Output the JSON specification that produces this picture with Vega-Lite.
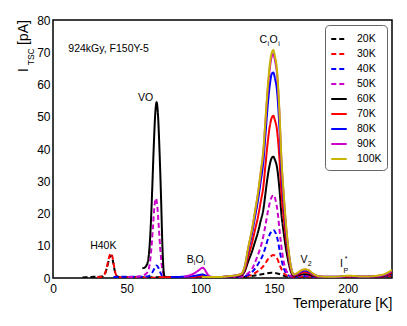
{
  "$schema": "https://vega.github.io/schema/vega-lite/v6.json",
  "width": 339,
  "height": 258,
  "autosize": {"type": "none"},
  "padding": {"left": 53, "top": 20, "right": 15, "bottom": 48},
  "config": {
    "font": "Liberation Sans",
    "view": {"stroke": "#000", "strokeWidth": 1.5},
    "axis": {
      "labelColor": "#000", "titleColor": "#000", "labelFont": "Liberation Sans", "titleFont": "Liberation Sans",
      "labelOverlap": false, "labelFlush": false, "labelFontSize": 12,
      "titleFontWeight": "normal", "titleFontSize": 14,
      "domain": false, "ticks": false, "grid": false
    },
    "legend": {"labelFont": "Liberation Sans"}
  },
  "datasets": {
    "gridX": [{"T": 50}, {"T": 100}, {"T": 150}, {"T": 200}],
    "gridY": [{"I": 10}, {"I": 20}, {"I": 30}, {"I": 40}, {"I": 50}, {"I": 60}, {"I": 70}],
    "tsc": [
      {"s":"20K","T":20,"I":0.15},{"s":"20K","T":24,"I":0.3},{"s":"20K","T":28,"I":0.4},{"s":"20K","T":31,"I":0.4},{"s":"20K","T":33.5,"I":0.45},{"s":"20K","T":34.5,"I":0.8},{"s":"20K","T":35.5,"I":1.6},{"s":"20K","T":36.5,"I":3.0},{"s":"20K","T":37.5,"I":4.9},{"s":"20K","T":38.5,"I":6.5},{"s":"20K","T":39.5,"I":7.0},{"s":"20K","T":40.5,"I":5.7},{"s":"20K","T":41.5,"I":3.1},{"s":"20K","T":42.5,"I":1.2},{"s":"20K","T":43.5,"I":0.5},{"s":"20K","T":45,"I":0.3},{"s":"20K","T":50,"I":0.25},{"s":"20K","T":60,"I":0.2},{"s":"20K","T":70,"I":0.2},{"s":"20K","T":80,"I":0.2},{"s":"20K","T":90,"I":0.2},{"s":"20K","T":100,"I":0.25},{"s":"20K","T":110,"I":0.25},{"s":"20K","T":120,"I":0.25},{"s":"20K","T":128,"I":0.3},{"s":"20K","T":132,"I":0.45},{"s":"20K","T":136,"I":0.7},{"s":"20K","T":140,"I":1.0},{"s":"20K","T":144,"I":1.35},{"s":"20K","T":148,"I":1.6},{"s":"20K","T":150,"I":1.6},{"s":"20K","T":153,"I":1.3},{"s":"20K","T":156,"I":0.8},{"s":"20K","T":159,"I":0.4},{"s":"20K","T":162,"I":0.25},{"s":"20K","T":168,"I":0.25},{"s":"20K","T":171,"I":0.3},{"s":"20K","T":176,"I":0.25},{"s":"20K","T":185,"I":0.2},{"s":"20K","T":200,"I":0.25},{"s":"20K","T":215,"I":0.2},{"s":"20K","T":230,"I":0.6},

      {"s":"30K","T":30,"I":0.3},{"s":"30K","T":32,"I":0.35},{"s":"30K","T":33.5,"I":0.5},{"s":"30K","T":34.5,"I":0.85},{"s":"30K","T":35.5,"I":1.7},{"s":"30K","T":36.5,"I":3.2},{"s":"30K","T":37.5,"I":5.3},{"s":"30K","T":38.5,"I":7.1},{"s":"30K","T":39.5,"I":7.6},{"s":"30K","T":40.5,"I":6.2},{"s":"30K","T":41.5,"I":3.4},{"s":"30K","T":42.5,"I":1.3},{"s":"30K","T":43.5,"I":0.5},{"s":"30K","T":45,"I":0.25},{"s":"30K","T":50,"I":0.15},{"s":"30K","T":60,"I":0.1},{"s":"30K","T":70,"I":0.1},{"s":"30K","T":80,"I":0.15},{"s":"30K","T":90,"I":0.2},{"s":"30K","T":100,"I":0.25},{"s":"30K","T":110,"I":0.25},{"s":"30K","T":120,"I":0.3},{"s":"30K","T":125,"I":0.35},{"s":"30K","T":128,"I":0.4},{"s":"30K","T":132,"I":0.6},{"s":"30K","T":135,"I":1.0},{"s":"30K","T":138,"I":1.8},{"s":"30K","T":140,"I":2.5},{"s":"30K","T":142,"I":3.3},{"s":"30K","T":144,"I":4.5},{"s":"30K","T":146,"I":5.9},{"s":"30K","T":148,"I":6.8},{"s":"30K","T":149.5,"I":7.1},{"s":"30K","T":151,"I":6.7},{"s":"30K","T":152.5,"I":5.6},{"s":"30K","T":154,"I":3.8},{"s":"30K","T":155.5,"I":2.3},{"s":"30K","T":157,"I":1.3},{"s":"30K","T":158.5,"I":0.8},{"s":"30K","T":160,"I":0.5},{"s":"30K","T":162,"I":0.4},{"s":"30K","T":165,"I":0.4},{"s":"30K","T":171,"I":0.45},{"s":"30K","T":176,"I":0.4},{"s":"30K","T":180,"I":0.3},{"s":"30K","T":190,"I":0.25},{"s":"30K","T":200,"I":0.3},{"s":"30K","T":210,"I":0.25},{"s":"30K","T":220,"I":0.3},{"s":"30K","T":230,"I":0.8},

      {"s":"40K","T":41,"I":0.3},{"s":"40K","T":45,"I":0.35},{"s":"40K","T":50,"I":0.4},{"s":"40K","T":55,"I":0.4},{"s":"40K","T":60,"I":0.4},{"s":"40K","T":64,"I":0.5},{"s":"40K","T":66,"I":0.9},{"s":"40K","T":68,"I":2.2},{"s":"40K","T":69,"I":3.2},{"s":"40K","T":70.3,"I":3.9},{"s":"40K","T":71.5,"I":3.2},{"s":"40K","T":72.5,"I":2.0},{"s":"40K","T":74,"I":0.7},{"s":"40K","T":76,"I":0.3},{"s":"40K","T":80,"I":0.25},{"s":"40K","T":90,"I":0.25},{"s":"40K","T":100,"I":0.3},{"s":"40K","T":110,"I":0.3},{"s":"40K","T":120,"I":0.35},{"s":"40K","T":125,"I":0.4},{"s":"40K","T":128,"I":0.45},{"s":"40K","T":132,"I":0.9},{"s":"40K","T":135,"I":1.8},{"s":"40K","T":138,"I":3.5},{"s":"40K","T":140,"I":5.0},{"s":"40K","T":142,"I":6.7},{"s":"40K","T":144,"I":9.3},{"s":"40K","T":146,"I":12.3},{"s":"40K","T":148,"I":14.3},{"s":"40K","T":149.5,"I":14.9},{"s":"40K","T":151,"I":14.0},{"s":"40K","T":152.5,"I":11.7},{"s":"40K","T":154,"I":7.9},{"s":"40K","T":155.5,"I":4.7},{"s":"40K","T":157,"I":2.5},{"s":"40K","T":158.5,"I":1.3},{"s":"40K","T":160,"I":0.7},{"s":"40K","T":162,"I":0.45},{"s":"40K","T":164,"I":0.4},{"s":"40K","T":166,"I":0.5},{"s":"40K","T":168.5,"I":0.6},{"s":"40K","T":171,"I":0.6},{"s":"40K","T":173.5,"I":0.55},{"s":"40K","T":176,"I":0.45},{"s":"40K","T":180,"I":0.3},{"s":"40K","T":185,"I":0.3},{"s":"40K","T":190,"I":0.3},{"s":"40K","T":200,"I":0.35},{"s":"40K","T":210,"I":0.3},{"s":"40K","T":220,"I":0.35},{"s":"40K","T":230,"I":1.0},

      {"s":"50K","T":51,"I":0.3},{"s":"50K","T":55,"I":0.35},{"s":"50K","T":58,"I":0.45},{"s":"50K","T":60,"I":0.6},{"s":"50K","T":62,"I":1.0},{"s":"50K","T":63.8,"I":1.6},{"s":"50K","T":64.8,"I":2.5},{"s":"50K","T":65.8,"I":4.9},{"s":"50K","T":66.8,"I":9.4},{"s":"50K","T":67.8,"I":15.7},{"s":"50K","T":68.8,"I":22.1},{"s":"50K","T":69.8,"I":24.7},{"s":"50K","T":70.8,"I":22.1},{"s":"50K","T":71.8,"I":15.7},{"s":"50K","T":72.8,"I":8.9},{"s":"50K","T":73.8,"I":4.0},{"s":"50K","T":74.8,"I":1.5},{"s":"50K","T":76,"I":0.5},{"s":"50K","T":78,"I":0.3},{"s":"50K","T":85,"I":0.3},{"s":"50K","T":95,"I":0.35},{"s":"50K","T":100,"I":0.4},{"s":"50K","T":105,"I":0.35},{"s":"50K","T":110,"I":0.3},{"s":"50K","T":120,"I":0.35},{"s":"50K","T":125,"I":0.4},{"s":"50K","T":128,"I":0.55},{"s":"50K","T":132,"I":1.3},{"s":"50K","T":135,"I":2.8},{"s":"50K","T":138,"I":5.9},{"s":"50K","T":140,"I":8.4},{"s":"50K","T":142,"I":11.5},{"s":"50K","T":144,"I":16.0},{"s":"50K","T":146,"I":21.1},{"s":"50K","T":148,"I":24.7},{"s":"50K","T":149.5,"I":25.7},{"s":"50K","T":151,"I":24.2},{"s":"50K","T":152.5,"I":20.1},{"s":"50K","T":154,"I":13.5},{"s":"50K","T":155.5,"I":7.9},{"s":"50K","T":157,"I":4.1},{"s":"50K","T":158.5,"I":2.1},{"s":"50K","T":160,"I":1.0},{"s":"50K","T":162,"I":0.6},{"s":"50K","T":164,"I":0.5},{"s":"50K","T":166,"I":0.6},{"s":"50K","T":168.5,"I":0.75},{"s":"50K","T":171,"I":0.8},{"s":"50K","T":173.5,"I":0.75},{"s":"50K","T":176,"I":0.55},{"s":"50K","T":180,"I":0.35},{"s":"50K","T":185,"I":0.3},{"s":"50K","T":190,"I":0.3},{"s":"50K","T":200,"I":0.4},{"s":"50K","T":210,"I":0.3},{"s":"50K","T":220,"I":0.4},{"s":"50K","T":230,"I":1.2},

      {"s":"60K","T":60.6,"I":3.0},{"s":"60K","T":62,"I":3.2},{"s":"60K","T":63.3,"I":3.8},{"s":"60K","T":64.3,"I":5.0},{"s":"60K","T":65.3,"I":8.5},{"s":"60K","T":66.3,"I":16},{"s":"60K","T":67.3,"I":27.3},{"s":"60K","T":68.3,"I":40},{"s":"60K","T":69.3,"I":50.4},{"s":"60K","T":70.3,"I":54.5},{"s":"60K","T":71.3,"I":50},{"s":"60K","T":72.3,"I":39},{"s":"60K","T":73.3,"I":25},{"s":"60K","T":74.3,"I":9},{"s":"60K","T":75,"I":2.5},{"s":"60K","T":75.5,"I":0.7},{"s":"60K","T":76.5,"I":0.3},{"s":"60K","T":80,"I":0.3},{"s":"60K","T":90,"I":0.3},{"s":"60K","T":96,"I":0.35},{"s":"60K","T":101,"I":0.5},{"s":"60K","T":106,"I":0.35},{"s":"60K","T":110,"I":0.3},{"s":"60K","T":120,"I":0.45},{"s":"60K","T":125,"I":0.6},{"s":"60K","T":128,"I":0.9},{"s":"60K","T":130,"I":2.0},{"s":"60K","T":132.5,"I":5.2},{"s":"60K","T":135,"I":8.2},{"s":"60K","T":137,"I":11.1},{"s":"60K","T":139,"I":14.1},{"s":"60K","T":141,"I":17.9},{"s":"60K","T":142.7,"I":21.2},{"s":"60K","T":144,"I":25.7},{"s":"60K","T":145.5,"I":31.0},{"s":"60K","T":147,"I":35.0},{"s":"60K","T":148.5,"I":37.3},{"s":"60K","T":149.5,"I":37.6},{"s":"60K","T":150.5,"I":36.7},{"s":"60K","T":152,"I":34.3},{"s":"60K","T":153.5,"I":28.3},{"s":"60K","T":155,"I":19.7},{"s":"60K","T":156.5,"I":14.1},{"s":"60K","T":158,"I":9.3},{"s":"60K","T":159.5,"I":5.5},{"s":"60K","T":161,"I":2.5},{"s":"60K","T":162.5,"I":1.0},{"s":"60K","T":163.5,"I":0.65},{"s":"60K","T":166,"I":0.8},{"s":"60K","T":168.5,"I":1.1},{"s":"60K","T":171,"I":1.2},{"s":"60K","T":173.5,"I":1.1},{"s":"60K","T":176,"I":0.7},{"s":"60K","T":178.5,"I":0.45},{"s":"60K","T":181,"I":0.35},{"s":"60K","T":185,"I":0.3},{"s":"60K","T":190,"I":0.3},{"s":"60K","T":195,"I":0.3},{"s":"60K","T":200,"I":0.45},{"s":"60K","T":205,"I":0.4},{"s":"60K","T":210,"I":0.3},{"s":"60K","T":215,"I":0.35},{"s":"60K","T":220,"I":0.45},{"s":"60K","T":225,"I":0.7},{"s":"60K","T":230,"I":1.5},

      {"s":"70K","T":72,"I":0.2},{"s":"70K","T":80,"I":0.2},{"s":"70K","T":90,"I":0.25},{"s":"70K","T":96,"I":0.35},{"s":"70K","T":101.5,"I":0.6},{"s":"70K","T":104,"I":0.45},{"s":"70K","T":108,"I":0.3},{"s":"70K","T":115,"I":0.3},{"s":"70K","T":120,"I":0.5},{"s":"70K","T":125,"I":0.7},{"s":"70K","T":128,"I":1.1},{"s":"70K","T":130,"I":2.55},{"s":"70K","T":132.5,"I":6.8},{"s":"70K","T":135,"I":10.8},{"s":"70K","T":137,"I":14.8},{"s":"70K","T":139,"I":18.8},{"s":"70K","T":141,"I":23.8},{"s":"70K","T":142.7,"I":28.3},{"s":"70K","T":144,"I":34.3},{"s":"70K","T":145.5,"I":41.3},{"s":"70K","T":147,"I":46.8},{"s":"70K","T":148.5,"I":49.8},{"s":"70K","T":149.5,"I":50.3},{"s":"70K","T":150.5,"I":49.0},{"s":"70K","T":152,"I":45.8},{"s":"70K","T":153.5,"I":37.8},{"s":"70K","T":155,"I":26.3},{"s":"70K","T":156.5,"I":18.8},{"s":"70K","T":158,"I":12.3},{"s":"70K","T":159.5,"I":7.3},{"s":"70K","T":161,"I":3.3},{"s":"70K","T":162.5,"I":1.3},{"s":"70K","T":163.5,"I":0.8},{"s":"70K","T":166,"I":1.1},{"s":"70K","T":168.5,"I":1.6},{"s":"70K","T":171,"I":1.8},{"s":"70K","T":173.5,"I":1.6},{"s":"70K","T":176,"I":1.0},{"s":"70K","T":178.5,"I":0.55},{"s":"70K","T":181,"I":0.4},{"s":"70K","T":185,"I":0.3},{"s":"70K","T":190,"I":0.3},{"s":"70K","T":195,"I":0.35},{"s":"70K","T":200,"I":0.5},{"s":"70K","T":205,"I":0.45},{"s":"70K","T":210,"I":0.35},{"s":"70K","T":215,"I":0.4},{"s":"70K","T":220,"I":0.5},{"s":"70K","T":225,"I":0.8},{"s":"70K","T":230,"I":1.8},

      {"s":"80K","T":80,"I":0.3},{"s":"80K","T":90,"I":0.4},{"s":"80K","T":95,"I":0.6},{"s":"80K","T":99,"I":0.9},{"s":"80K","T":101.5,"I":1.1},{"s":"80K","T":103.5,"I":0.8},{"s":"80K","T":106,"I":0.4},{"s":"80K","T":110,"I":0.3},{"s":"80K","T":115,"I":0.3},{"s":"80K","T":120,"I":0.55},{"s":"80K","T":125,"I":0.8},{"s":"80K","T":128,"I":1.3},{"s":"80K","T":130,"I":3.2},{"s":"80K","T":132.5,"I":8.6},{"s":"80K","T":135,"I":13.7},{"s":"80K","T":137,"I":18.8},{"s":"80K","T":139,"I":23.9},{"s":"80K","T":141,"I":30.2},{"s":"80K","T":142.7,"I":36.0},{"s":"80K","T":144,"I":43.6},{"s":"80K","T":145.5,"I":52.5},{"s":"80K","T":147,"I":59.5},{"s":"80K","T":148.5,"I":63.4},{"s":"80K","T":149.5,"I":63.7},{"s":"80K","T":150.5,"I":62.1},{"s":"80K","T":152,"I":58.0},{"s":"80K","T":153.5,"I":47.8},{"s":"80K","T":155,"I":33.1},{"s":"80K","T":156.5,"I":23.6},{"s":"80K","T":158,"I":15.3},{"s":"80K","T":159.5,"I":8.9},{"s":"80K","T":161,"I":4.3},{"s":"80K","T":162.5,"I":1.5},{"s":"80K","T":163.5,"I":1.0},{"s":"80K","T":166,"I":1.4},{"s":"80K","T":168.5,"I":2.0},{"s":"80K","T":171,"I":2.3},{"s":"80K","T":173.5,"I":2.0},{"s":"80K","T":176,"I":1.3},{"s":"80K","T":178.5,"I":0.7},{"s":"80K","T":181,"I":0.45},{"s":"80K","T":185,"I":0.35},{"s":"80K","T":190,"I":0.35},{"s":"80K","T":195,"I":0.4},{"s":"80K","T":200,"I":0.6},{"s":"80K","T":205,"I":0.5},{"s":"80K","T":210,"I":0.4},{"s":"80K","T":215,"I":0.45},{"s":"80K","T":220,"I":0.6},{"s":"80K","T":225,"I":1.0},{"s":"80K","T":230,"I":2.2},

      {"s":"90K","T":89,"I":0.5},{"s":"90K","T":93,"I":0.9},{"s":"90K","T":96,"I":1.5},{"s":"90K","T":98,"I":2.1},{"s":"90K","T":100,"I":2.8},{"s":"90K","T":101.5,"I":3.2},{"s":"90K","T":103,"I":2.6},{"s":"90K","T":104.5,"I":1.4},{"s":"90K","T":106,"I":0.6},{"s":"90K","T":108,"I":0.35},{"s":"90K","T":112,"I":0.3},{"s":"90K","T":120,"I":0.6},{"s":"90K","T":125,"I":0.9},{"s":"90K","T":128,"I":1.4},{"s":"90K","T":130,"I":3.4},{"s":"90K","T":132.5,"I":9.3},{"s":"90K","T":135,"I":14.8},{"s":"90K","T":137,"I":20.2},{"s":"90K","T":139,"I":25.8},{"s":"90K","T":141,"I":32.6},{"s":"90K","T":142.7,"I":38.9},{"s":"90K","T":144,"I":47.3},{"s":"90K","T":145.5,"I":57.0},{"s":"90K","T":147,"I":64.6},{"s":"90K","T":148.5,"I":68.8},{"s":"90K","T":149.5,"I":69.5},{"s":"90K","T":150.5,"I":67.7},{"s":"90K","T":152,"I":63.2},{"s":"90K","T":153.5,"I":52.1},{"s":"90K","T":155,"I":36.1},{"s":"90K","T":156.5,"I":25.7},{"s":"90K","T":158,"I":16.7},{"s":"90K","T":159.5,"I":9.7},{"s":"90K","T":161,"I":4.6},{"s":"90K","T":162.5,"I":1.6},{"s":"90K","T":163.5,"I":1.1},{"s":"90K","T":166,"I":1.5},{"s":"90K","T":168.5,"I":2.3},{"s":"90K","T":171,"I":2.6},{"s":"90K","T":173.5,"I":2.3},{"s":"90K","T":176,"I":1.4},{"s":"90K","T":178.5,"I":0.8},{"s":"90K","T":181,"I":0.5},{"s":"90K","T":185,"I":0.4},{"s":"90K","T":190,"I":0.4},{"s":"90K","T":195,"I":0.45},{"s":"90K","T":200,"I":0.65},{"s":"90K","T":205,"I":0.55},{"s":"90K","T":210,"I":0.45},{"s":"90K","T":215,"I":0.5},{"s":"90K","T":220,"I":0.65},{"s":"90K","T":225,"I":1.1},{"s":"90K","T":230,"I":2.3},

      {"s":"100K","T":101,"I":0.3},{"s":"100K","T":110,"I":0.3},{"s":"100K","T":115,"I":0.35},{"s":"100K","T":120,"I":0.6},{"s":"100K","T":125,"I":0.9},{"s":"100K","T":128,"I":1.4},{"s":"100K","T":130,"I":3.5},{"s":"100K","T":132.5,"I":9.5},{"s":"100K","T":135,"I":15.1},{"s":"100K","T":137,"I":20.5},{"s":"100K","T":139,"I":26.2},{"s":"100K","T":141,"I":33.2},{"s":"100K","T":142.7,"I":39.6},{"s":"100K","T":144,"I":48.1},{"s":"100K","T":145.5,"I":58.0},{"s":"100K","T":147,"I":65.8},{"s":"100K","T":148.5,"I":70.0},{"s":"100K","T":149.5,"I":70.7},{"s":"100K","T":150.5,"I":68.9},{"s":"100K","T":152,"I":64.3},{"s":"100K","T":153.5,"I":53.0},{"s":"100K","T":155,"I":36.8},{"s":"100K","T":156.5,"I":26.2},{"s":"100K","T":158,"I":17.0},{"s":"100K","T":159.5,"I":9.9},{"s":"100K","T":161,"I":4.7},{"s":"100K","T":162.5,"I":1.6},{"s":"100K","T":163.5,"I":1.1},{"s":"100K","T":166,"I":1.6},{"s":"100K","T":168.5,"I":2.4},{"s":"100K","T":171,"I":2.7},{"s":"100K","T":173.5,"I":2.4},{"s":"100K","T":176,"I":1.5},{"s":"100K","T":178.5,"I":0.8},{"s":"100K","T":181,"I":0.5},{"s":"100K","T":185,"I":0.4},{"s":"100K","T":190,"I":0.4},{"s":"100K","T":195,"I":0.5},{"s":"100K","T":200,"I":0.7},{"s":"100K","T":205,"I":0.6},{"s":"100K","T":210,"I":0.45},{"s":"100K","T":215,"I":0.5},{"s":"100K","T":220,"I":0.7},{"s":"100K","T":225,"I":1.2},{"s":"100K","T":230,"I":2.5}
    ],
    "labLeft": [{"t":"924kGy, F150Y-5","T":10.4,"I":70.2}],
    "labMain": [
      {"t":"VO","T":62.8,"I":55.0},
      {"t":"H40K","T":34.1,"I":9.0},
      {"t":"C","T":142.6,"I":72.8},
      {"t":"O","T":149.7,"I":72.8},
      {"t":"B","T":93.1,"I":4.65},
      {"t":"O","T":99.4,"I":4.65},
      {"t":"V","T":170.3,"I":4.55},
      {"t":"I","T":195.7,"I":3.3}
    ],
    "labSub": [
      {"t":"i","T":146.1,"I":71.9},
      {"t":"i","T":153.3,"I":71.9},
      {"t":"i","T":96.0,"I":3.9},
      {"t":"i","T":102.7,"I":3.9},
      {"t":"2","T":174.2,"I":3.8},
      {"t":"P","T":198.6,"I":1.45},
      {"t":"*","T":198.8,"I":5.2}
    ],
    "ytBig": [{"t":"I","T":-17.0,"I":64.5},{"t":"[pA]","T":-17.0,"I":76.1}],
    "ytSub": [{"t":"TSC","T":-12.9,"I":68.6}]
  },
  "encoding": {
    "x": {
      "field": "T", "type": "quantitative",
      "scale": {"domain": [0, 230], "nice": false, "zero": false},
      "axis": {
        "values": [0, 50, 100, 150, 200],
        "labelPadding": 5, "grid": false,
        "title": "Temperature [K]", "titleFontWeight": "normal", "titleFontSize": 14,
        "titleAnchor": "end", "titleAlign": "right", "titleBaseline": "alphabetic",
        "titleX": 339, "titleY": 29
      }
    },
    "y": {
      "field": "I", "type": "quantitative",
      "scale": {"domain": [0, 80], "nice": false, "zero": false},
      "axis": {
        "values": [0, 10, 20, 30, 40, 50, 60, 70, 80],
        "labelPadding": 3, "grid": false,
        "title": null
      }
    }
  },
  "layer": [
    {
      "data": {"name": "gridX"},
      "mark": {"type": "rule", "color": "#777777", "strokeWidth": 1, "strokeDash": [1, 2]},
      "encoding": {"y": {"datum": 0, "type": "quantitative"}, "y2": {"datum": 80}}
    },
    {
      "data": {"name": "gridY"},
      "mark": {"type": "rule", "color": "#777777", "strokeWidth": 1, "strokeDash": [1, 2]},
      "encoding": {"x": {"datum": 0, "type": "quantitative"}, "x2": {"datum": 230}}
    },
    {
      "data": {"name": "tsc"},
      "mark": {"type": "line", "interpolate": "monotone", "strokeWidth": 2, "clip": true},
      "encoding": {
        "color": {
          "field": "s", "type": "nominal",
          "scale": {
            "domain": ["20K","30K","40K","50K","60K","70K","80K","90K","100K"],
            "range": ["#000000","#ff0000","#0000ff","#cc00cc","#000000","#ff0000","#0000ff","#cc00cc","#c8b400"]
          },
          "legend": {
            "title": null, "orient": "top-right", "offset": 5,
            "strokeColor": "#666", "cornerRadius": 4, "fillColor": "#fff", "padding": 5,
            "symbolType": "stroke", "symbolSize": 240, "symbolStrokeWidth": 2,
            "labelFontSize": 10.5, "labelOffset": 9, "rowPadding": -2, "labelColor": "#000"
          }
        },
        "strokeDash": {
          "field": "s", "type": "nominal",
          "scale": {
            "domain": ["20K","30K","40K","50K","60K","70K","80K","90K","100K"],
            "range": [[5,3],[5,3],[5,3],[5,3],[1,0],[1,0],[1,0],[1,0],[1,0]]
          },
          "legend": {
            "title": null, "orient": "top-right", "offset": 5,
            "strokeColor": "#666", "cornerRadius": 4, "fillColor": "#fff", "padding": 5,
            "symbolType": "stroke", "symbolSize": 240, "symbolStrokeWidth": 2,
            "labelFontSize": 10.5, "labelOffset": 9, "rowPadding": -2, "labelColor": "#000"
          }
        }
      }
    },
    {
      "data": {"name": "labLeft"},
      "mark": {"type": "text", "align": "left", "baseline": "alphabetic", "fontSize": 10.5, "color": "#000"},
      "encoding": {"text": {"field": "t"}}
    },
    {
      "data": {"name": "labMain"},
      "mark": {"type": "text", "align": "center", "baseline": "alphabetic", "fontSize": 10.5, "color": "#000"},
      "encoding": {"text": {"field": "t"}}
    },
    {
      "data": {"name": "labSub"},
      "mark": {"type": "text", "align": "center", "baseline": "alphabetic", "fontSize": 7, "color": "#000"},
      "encoding": {"text": {"field": "t"}}
    },
    {
      "data": {"name": "ytBig"},
      "mark": {"type": "text", "align": "center", "baseline": "alphabetic", "fontSize": 14, "angle": 270, "color": "#000"},
      "encoding": {"text": {"field": "t"}}
    },
    {
      "data": {"name": "ytSub"},
      "mark": {"type": "text", "align": "center", "baseline": "alphabetic", "fontSize": 8.5, "angle": 270, "color": "#000"},
      "encoding": {"text": {"field": "t"}}
    }
  ]
}
